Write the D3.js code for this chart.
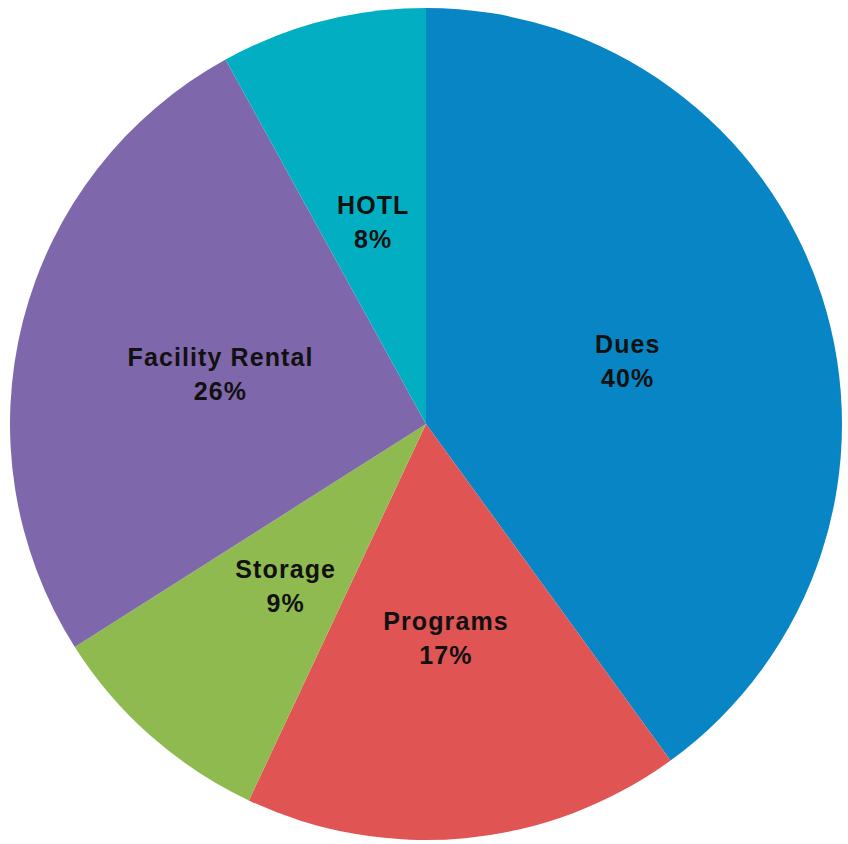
<!DOCTYPE html>
<html>
<head>
<meta charset="utf-8">
<script src="https://cdn.jsdelivr.net/npm/d3@7"></script>
<style>
  html, body { margin: 0; padding: 0; background: #fff; }
  svg { display: block; }
</style>
</head>
<body>
<div id="chart"></div>
<script>
// slices, clockwise from 12 o'clock
const categories = ["Dues", "Programs", "Storage", "Facility Rental", "HOTL"];
const values = [40, 17, 9, 26, 8];
const colors = ["#0785c4", "#e05454", "#8fba4f", "#7e67ab", "#02afc2"];

const width = 848, height = 844;
const cx = 426, cy = 424, radius = 416;

const data = categories.map((c, i) => ({ name: c, value: values[i] }));

const svg = d3.select("#chart").append("svg")
    .attr("width", width)
    .attr("height", height);

const g = svg.append("g").attr("transform", `translate(${cx},${cy})`);

const pie = d3.pie()
    .value(d => d.value)
    .sort(null);

const arc = d3.arc().innerRadius(0).outerRadius(radius);
const labelArc = d3.arc().innerRadius(radius * 0.51).outerRadius(radius * 0.51);

const arcs = pie(data);

g.selectAll("path.slice")
    .data(arcs)
    .join("path")
    .attr("class", "slice")
    .attr("d", arc)
    .attr("fill", (d, i) => colors[i]);

const total = d3.sum(values);

const labels = g.selectAll("text.lbl")
    .data(arcs)
    .join("text")
    .attr("class", "lbl")
    .attr("transform", d => `translate(${labelArc.centroid(d)})`)
    .attr("text-anchor", "middle")
    .attr("font-family", "'Liberation Sans', Arial, sans-serif")
    .attr("font-weight", "bold")
    .attr("font-size", 25)
    .attr("letter-spacing", 1.1)
    .attr("fill", "#111");

labels.append("tspan")
    .attr("x", 0)
    .attr("y", -5)
    .text(d => d.data.name);

labels.append("tspan")
    .attr("x", 0)
    .attr("y", 29)
    .text(d => Math.round(d.data.value / total * 100) + "%");
</script>
</body>
</html>
